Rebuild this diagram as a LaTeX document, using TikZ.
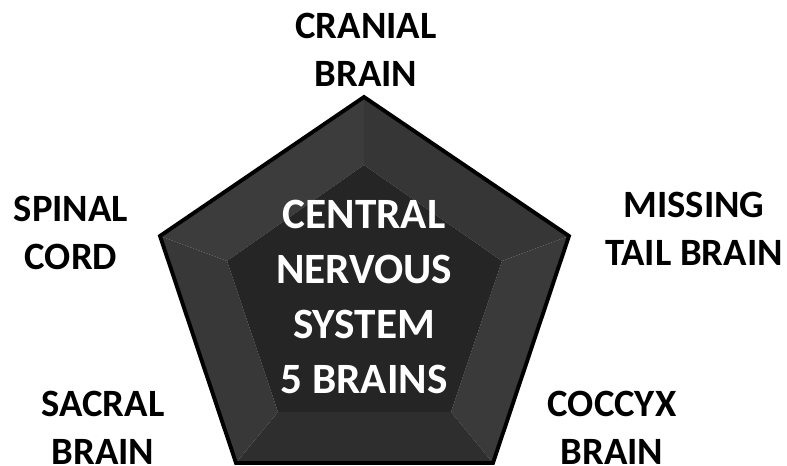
\documentclass[tikz,border=0pt]{standalone}
\usepackage{fontspec}
\setmainfont{Carlito}
\begin{document}
\begin{tikzpicture}[x=0.2mm,y=-0.2mm,
        brainlabel/.style={font=\fontsize{22}{27.4}\selectfont\bfseries,align=center,inner sep=0pt},
        centerlabel/.style={font=\fontsize{24.6}{31.2}\selectfont\bfseries,align=center,inner sep=0pt,text=white}]
        \useasboundingbox (0,0) rectangle (787,466);
        % outer and inner corners of the pentagon
        \coordinate (o1) at (364,97);
        \coordinate (o2) at (569,236);
        \coordinate (o3) at (493,463);
        \coordinate (o4) at (236,463);
        \coordinate (o5) at (160,236);
        \coordinate (i1) at (364,165);
        \coordinate (i2) at (502,261);
        \coordinate (i3) at (451,412);
        \coordinate (i4) at (278,412);
        \coordinate (i5) at (227,261);
        % bevel faces
        \fill[fill={rgb,255:red,54;green,54;blue,54}] (o1) -- (o2) -- (i2) -- (i1) -- cycle;
        \fill[fill={rgb,255:red,58;green,58;blue,58}] (o2) -- (o3) -- (i3) -- (i2) -- cycle;
        \fill[fill={rgb,255:red,46;green,46;blue,46}] (o3) -- (o4) -- (i4) -- (i3) -- cycle;
        \fill[fill={rgb,255:red,56;green,56;blue,56}] (o4) -- (o5) -- (i5) -- (i4) -- cycle;
        \fill[fill={rgb,255:red,60;green,60;blue,60}] (o5) -- (o1) -- (i1) -- (i5) -- cycle;
        \fill[fill={rgb,255:red,37;green,37;blue,37}] (i1) -- (i2) -- (i3) -- (i4) -- (i5) -- cycle;
        \draw[line width=2.2pt,line join=miter] (o1) -- (o2) -- (o3) -- (o4) -- (o5) -- cycle;
        % labels
        \node[centerlabel] (cns) at (364,297) {CENTRAL\\NERVOUS\\SYSTEM\\5 BRAINS};
        \node[brainlabel] (cranial) at (366,50) {CRANIAL\\BRAIN};
        \node[brainlabel] (spinal) at (71,233) {SPINAL\\CORD};
        \node[brainlabel] (tail) at (694,229) {MISSING\\TAIL BRAIN};
        \node[brainlabel] (sacral) at (103,428) {SACRAL\\BRAIN};
        \node[brainlabel] (coccyx) at (612,428) {COCCYX\\BRAIN};
\end{tikzpicture}
\end{document}
